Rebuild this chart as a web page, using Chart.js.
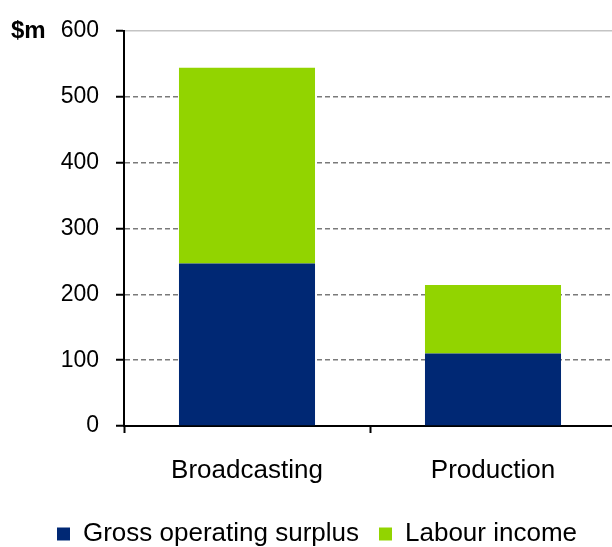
<!DOCTYPE html>
<html lang="en">
<head>
  <meta charset="UTF-8" />
  <title>Gross operating surplus and labour income</title>
  <script src="https://cdn.jsdelivr.net/npm/chart.js"></script>
  <style>
    body {
      margin: 0;
      padding: 0;
      background-color: white;
    }

    .chart-container {
      width: 612px;
      height: 547px;
      position: relative;
    }
  </style>
</head>
<body>
  <div class="chart-container">
    <canvas id="valueChart"></canvas>
  </div>

  <script>
    const categories = ['Broadcasting', 'Production'];
    const grossOperatingSurplus = [247, 110];
    const labourIncome = [297, 104];
    const yTicks = [0, 100, 200, 300, 400, 500, 600];
    const unitLabel = '$m';

    const fontFamily = "'Liberation Sans', Arial, sans-serif";

    // "$m" sits to the left of the top tick label
    const unitPlugin = {
      id: 'unitLabel',
      afterDraw(chart) {
        const c = chart.ctx;
        c.save();
        c.font = 'bold 24px ' + fontFamily;
        c.fillStyle = '#000';
        c.textAlign = 'left';
        c.textBaseline = 'alphabetic';
        c.fillText(unitLabel, 11, chart.chartArea.top + 7);
        c.restore();
      }
    };

    // the original plot runs a few pixels past the right edge of the picture
    const overhangPlugin = {
      id: 'overhang',
      afterLayout(chart) {
        const x = chart.scales.x;
        x.right = x.right + 4;
        x.width = x.right - x.left;
        x.configure();
      }
    };

    const ctx = document.getElementById('valueChart').getContext('2d');
    const chart = new Chart(ctx, {
      type: 'bar',
      data: {
        labels: categories,
        datasets: [
          {
            label: 'Gross operating surplus',
            data: grossOperatingSurplus,
            backgroundColor: '#002874',
            borderWidth: 0
          },
          {
            label: 'Labour income',
            data: labourIncome,
            backgroundColor: '#92D400',
            borderWidth: 0
          }
        ]
      },
      options: {
        responsive: true,
        maintainAspectRatio: false,
        animation: false,
        categoryPercentage: 1,
        barPercentage: 0.553,
        layout: {
          padding: { top: 31, left: 22, right: 0, bottom: -10 }
        },
        scales: {
          x: {
            stacked: true,
            afterFit: (scale) => { scale.height = 75; },
            grid: {
              drawOnChartArea: false,
              offset: true,
              tickLength: 7,
              tickColor: '#000',
              tickWidth: 2
            },
            border: { color: '#000', width: 2 },
            ticks: {
              color: '#000',
              padding: 22,
              font: { family: fontFamily, size: 26 }
            }
          },
          y: {
            stacked: true,
            min: 0,
            max: 600,
            afterFit: (scale) => { scale.width = 102; },
            afterBuildTicks: (scale) => {
              scale.ticks = yTicks.map(v => ({ value: v }));
            },
            grid: {
              color: (c) => {
                if (c.tick.value === 0) return 'rgba(0,0,0,0)';
                if (c.tick.value === 600) return '#c4c4c4';
                return '#7a7a7a';
              },
              lineWidth: 1.5,
              tickLength: 8,
              tickColor: '#000',
              tickWidth: 2,
              tickBorderDash: [1, 0]
            },
            border: {
              color: '#000',
              width: 2,
              dash: (c) => (c.tick && c.tick.value === 600) ? [1, 0] : [5, 3]
            },
            ticks: {
              color: '#000',
              padding: 17,
              font: { family: fontFamily, size: 23 }
            }
          }
        },
        plugins: {
          legend: {
            display: true,
            position: 'bottom',
            labels: {
              color: '#000',
              boxWidth: 13,
              boxHeight: 13,
              padding: 20,
              font: { family: fontFamily, size: 26 }
            }
          },
          tooltip: { enabled: false }
        }
      },
      plugins: [unitPlugin, overhangPlugin]
    });
  </script>
</body>
</html>
